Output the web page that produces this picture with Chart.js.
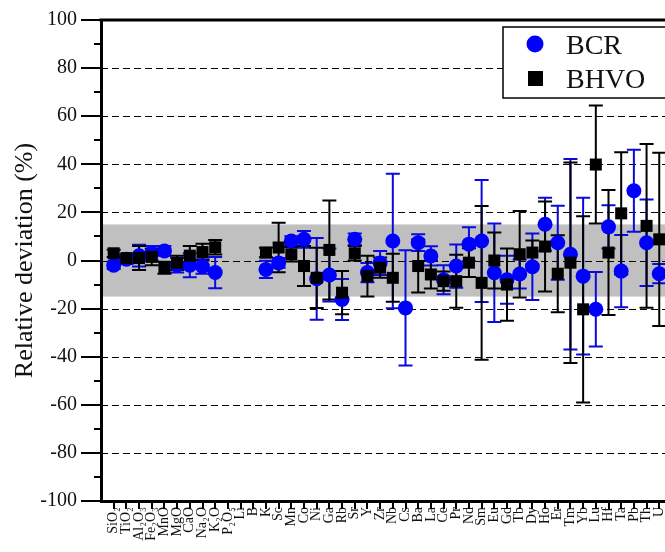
<!DOCTYPE html>
<html>
<head>
<meta charset="utf-8">
<script src="https://cdn.jsdelivr.net/npm/chart.js@4.4.1/dist/chart.umd.min.js"></script>
<style>
    html, body { margin: 0; padding: 0; background: #fff; overflow: hidden; width: 665px; height: 552px; }
    #myChart { display: block; }
</style>
</head>
<body>
<canvas id="myChart" width="720" height="552"></canvas>
<script>
// datos de la grafica (desviacion relativa en %)
const elementos = ['SiO₂', 'TiO₂', 'Al₂O₃', 'Fe₂O₃', 'MnO', 'MgO', 'CaO', 'Na₂O', 'K₂O', 'P₂O₅',
    'Li', 'B', 'K', 'Sc', 'Mn', 'Co', 'Ni', 'Ga', 'Rb', 'Sr', 'Y', 'Zr', 'Nb', 'Cs', 'Ba',
    'La', 'Ce', 'Pr', 'Nd', 'Sm', 'Eu', 'Gd', 'Tb', 'Dy', 'Ho', 'Er', 'Tm', 'Yb', 'Lu',
    'Hf', 'Ta', 'Pb', 'Th', 'U'];

const bcrValores = [-2, 0.5, 2, 3, 4, -2, -2, -2.5, -5, null,
    null, null, -3.7, -1, 8.1, 8.8, -7.6, -6, -16.2, 8.8, -5, -1, 8.1, -19.7, 7.4,
    1.9, -8, -2.3, 6.8, 8.1, -5.1, -8, -5.6, -2.6, 15.1, 7.4, 2.6, -6.5, -20.3,
    14, -4.4, 29, 7.4, -5.5];
const bcrErrores = [1.5, 2, 4.5, 3, 2, 3, 5, 3, 6.5, null,
    null, null, 3.6, 2, 2, 3.5, 17, 11, 8.5, 2.4, 4, 5, 28, 24, 3.5,
    4, 6, 9, 7, 25.4, 20.5, 10, 6, 13.8, 11, 15.4, 39.6, 32.6, 15.5,
    9, 15, 17, 18, 4];

const bhvoValores = [3, 1, 1, 1.5, -3, -1, 2, 3.5, 5.5, null,
    null, null, 3.3, 5.4, 2.6, -2.3, -7.2, 4.4, -13.4, 3, -6.5, -3, -7.2, null, -2.3,
    -5.8, -8.6, -8.6, -0.9, -9.3, 0, -10, 2.6, 3.3, 5.8, -5.5, -0.9, -20.3, 39.9,
    3.3, 19.6, null, 14.4, 8.8];
const bhvoErrores = [1.5, 1, 5, 3.5, 2.5, 3, 4, 3.5, 3, null,
    null, null, 2, 10.3, 3, 8.3, 12.5, 20.6, 9, 3, 8.5, 4.2, 10, null, 11,
    5.8, 4, 11, 6, 32, 11.6, 15, 18, 5, 18.7, 16, 41.7, 38.7, 24.5,
    26, 25.4, null, 34, 36];

const yTicks = [-100, -80, -60, -40, -20, 0, 20, 40, 60, 80, 100];
const bandaGris = [-15, 15];

// convierte los arreglos en puntos {x, y, err}
function armarPuntos(valores, errores) {
    let puntos = [];
    valores.forEach((v, i) => {
        if (v !== null) puntos.push({ x: i + 1, y: v, err: errores[i] });
    });
    return puntos;
}

const serif = "'Liberation Serif', 'DejaVu Serif', 'Times New Roman', serif";

// banda gris y lineas punteadas (debajo de todo)
const fondoPlugin = {
    id: 'fondo',
    beforeDraw(chart) {
        const { ctx, chartArea, scales } = chart;
        const y = scales.y;
        ctx.save();
        ctx.fillStyle = '#c0c0c0';
        let yTop = y.getPixelForValue(bandaGris[1]);
        let yBot = y.getPixelForValue(bandaGris[0]);
        ctx.fillRect(chartArea.left, yTop, chartArea.right - chartArea.left, yBot - yTop);

        ctx.strokeStyle = '#000';
        ctx.lineWidth = 1;
        ctx.setLineDash([7, 4]);
        yTicks.filter(t => Math.abs(t) < 100).forEach(t => {
            let py = Math.round(y.getPixelForValue(t)) + 0.5;
            ctx.beginPath();
            ctx.moveTo(chartArea.left, py);
            ctx.lineTo(chartArea.right, py);
            ctx.stroke();
        });
        ctx.restore();
    }
};

// barras de error de cada serie
const erroresPlugin = {
    id: 'errores',
    beforeDatasetsDraw(chart) {
        const { ctx, chartArea, scales } = chart;
        ctx.save();
        ctx.beginPath();
        ctx.rect(chartArea.left, chartArea.top, chartArea.right - chartArea.left, chartArea.bottom - chartArea.top);
        ctx.clip();
        ctx.lineWidth = 2;
        // primero BCR, luego BHVO encima
        [0, 1].forEach(d => {
            let ds = chart.data.datasets[d];
            ctx.strokeStyle = ds.barColor;
            ds.data.forEach(p => {
                let px = scales.x.getPixelForValue(p.x);
                let y1 = scales.y.getPixelForValue(p.y + p.err);
                let y2 = scales.y.getPixelForValue(p.y - p.err);
                ctx.beginPath();
                ctx.moveTo(px, y1);
                ctx.lineTo(px, y2);
                ctx.moveTo(px - 7, y1);
                ctx.lineTo(px + 7, y1);
                ctx.moveTo(px - 7, y2);
                ctx.lineTo(px + 7, y2);
                ctx.stroke();
            });
        });
        ctx.restore();
    }
};

// marcas de los ejes, linea superior y leyenda
const marcoPlugin = {
    id: 'marco',
    afterDraw(chart) {
        const { ctx, chartArea, scales } = chart;
        ctx.save();
        ctx.strokeStyle = '#000';
        ctx.lineWidth = 2;

        // ticks eje y (mayores cada 20, menores cada 10)
        for (let v = -100; v <= 100; v += 10) {
            let py = Math.round(scales.y.getPixelForValue(v));
            let largo = (v % 20 === 0) ? 20 : 7;
            ctx.beginPath();
            ctx.moveTo(chartArea.left - largo, py);
            ctx.lineTo(chartArea.left, py);
            ctx.stroke();
        }
        // ticks eje x
        for (let i = 1; i <= scales.x.max; i++) {
            let px = Math.round(scales.x.getPixelForValue(i));
            ctx.beginPath();
            ctx.moveTo(px, chartArea.bottom);
            ctx.lineTo(px, chartArea.bottom + 8);
            ctx.stroke();
        }
        // linea superior
        ctx.lineWidth = 3;
        ctx.beginPath();
        ctx.moveTo(chartArea.left - 1.5, chartArea.top);
        ctx.lineTo(chartArea.right, chartArea.top);
        ctx.stroke();

        // leyenda
        ctx.fillStyle = '#fff';
        ctx.fillRect(503, 27, 200, 71);
        ctx.lineWidth = 1.5;
        ctx.strokeRect(503, 27, 200, 71);
        let ds = chart.data.datasets;
        ctx.fillStyle = ds[0].backgroundColor;
        ctx.beginPath();
        ctx.arc(535, 44, 8.5, 0, Math.PI * 2);
        ctx.fill();
        ctx.fillStyle = ds[1].backgroundColor;
        ctx.fillRect(528, 71, 15, 15);
        ctx.fillStyle = '#111';
        ctx.font = '28px ' + serif;
        ctx.textBaseline = 'alphabetic';
        ctx.fillText(ds[0].label, 566, 54);
        ctx.fillText(ds[1].label, 566, 88);
        ctx.restore();
    }
};

let ctx = document.getElementById('myChart').getContext('2d');

let miGrafico = new Chart(ctx, {
    type: 'scatter',
    data: {
        datasets: [{
            label: 'BCR',
            data: armarPuntos(bcrValores, bcrErrores),
            backgroundColor: '#0000ff',
            barColor: '#0a0ae0',
            pointStyle: 'circle',
            pointRadius: 7.5,
            borderWidth: 0,
            order: 1
        }, {
            label: 'BHVO',
            data: armarPuntos(bhvoValores, bhvoErrores),
            backgroundColor: '#000',
            barColor: '#000',
            pointStyle: 'rect',
            pointRadius: 8.5,
            borderWidth: 0,
            order: 0
        }]
    },
    options: {
        responsive: false,
        animation: false,
        devicePixelRatio: 1,
        events: [],
        layout: { padding: { top: 20, right: 10, left: 0, bottom: 0 } },
        plugins: {
            legend: { display: false },
            tooltip: { enabled: false }
        },
        scales: {
            x: {
                type: 'linear',
                min: 0,
                max: 48,
                grid: { display: false, drawTicks: false },
                border: { display: true, width: 3, color: '#000' },
                ticks: {
                    stepSize: 1,
                    autoSkip: false,
                    maxRotation: 90,
                    minRotation: 90,
                    padding: 6,
                    color: '#111',
                    font: { family: serif, size: 14 },
                    callback: (v) => elementos[v - 1] || ''
                },
                afterFit: (scale) => {
                    scale.height = 51;
                    scale.paddingLeft = 0;
                    scale.paddingRight = 0;
                }
            },
            y: {
                min: -100,
                max: 100,
                grid: { display: false, drawTicks: false },
                border: { display: true, width: 3, color: '#000' },
                ticks: {
                    stepSize: 10,
                    autoSkip: false,
                    padding: 24,
                    color: '#111',
                    font: { family: serif, size: 20 },
                    callback: (v) => yTicks.includes(v) ? String(v) : ''
                },
                title: {
                    display: true,
                    text: 'Relative deviation (%)',
                    color: '#111',
                    font: { family: serif, size: 26 },
                    padding: { top: 10, bottom: 0 }
                },
                afterFit: (scale) => {
                    scale.width = 101;
                    scale.paddingTop = 0;
                    scale.paddingBottom = 0;
                }
            }
        }
    },
    plugins: [fondoPlugin, erroresPlugin, marcoPlugin]
});
</script>
</body>
</html>
